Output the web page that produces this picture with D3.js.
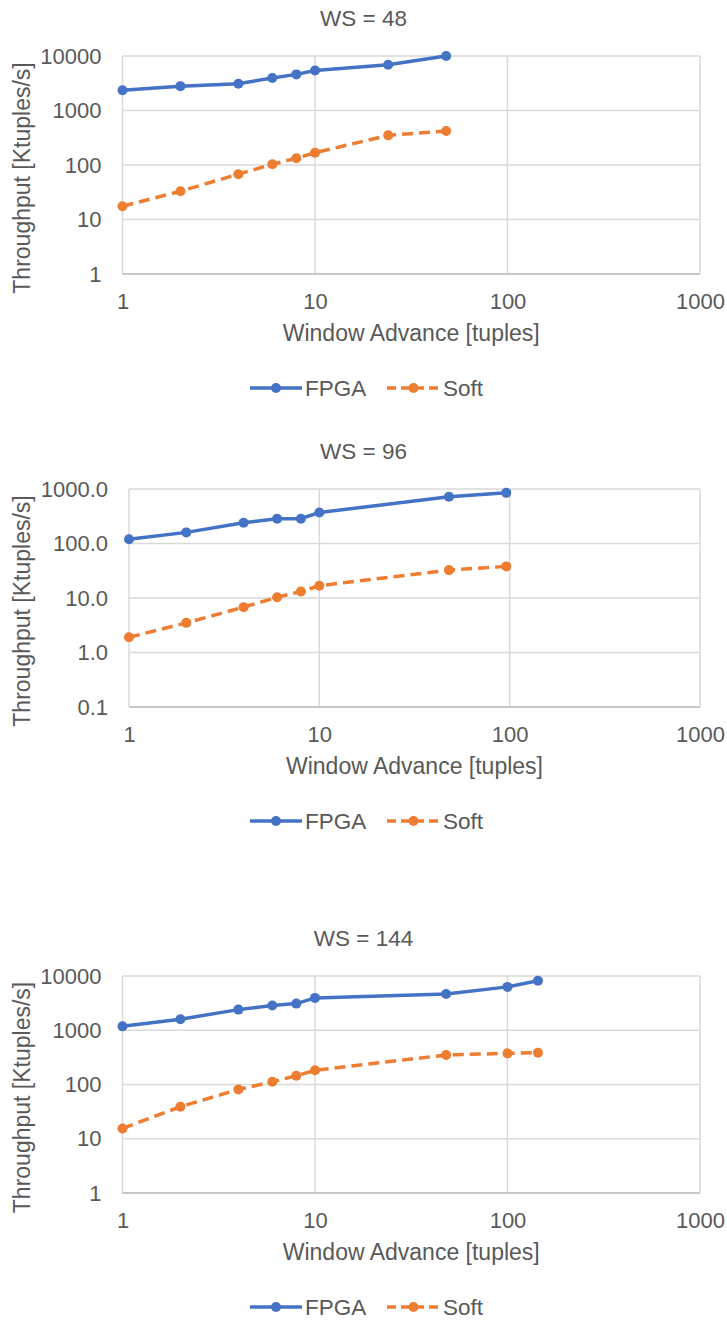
<!DOCTYPE html>
<html>
<head>
<meta charset="utf-8">
<script src="https://cdn.jsdelivr.net/npm/d3@7"></script>
<style>
  body { margin: 0; background: #fff; }
  svg { display: block; }
  text { font-family: "Liberation Sans", Arial, sans-serif; fill: #595959; }
</style>
</head>
<body>
<svg id="chart" width="727" height="1321"></svg>
<script>
// window advance values (x) and throughput per series
var wa48 = [1, 2, 4, 6, 8, 10, 24, 48];
var fpga48 = [2350, 2800, 3100, 3950, 4600, 5400, 6900, 10000];
var soft48 = [17.5, 33, 68, 103, 133, 168, 350, 420];

var wa96 = [1, 2, 4, 6, 8, 10, 48, 96];
var fpga96 = [120, 160, 240, 285, 285, 370, 720, 850];
var soft96 = [1.9, 3.5, 6.8, 10.3, 13.2, 16.8, 32.5, 38];

var wa144 = [1, 2, 4, 6, 8, 10, 48, 100, 144];
var fpga144 = [1180, 1600, 2400, 2850, 3100, 3950, 4650, 6300, 8200];
var soft144 = [15.5, 39, 81, 112, 145, 183, 350, 375, 385];

var xTicks = [1, 10, 100, 1000];
var yTicksA = [1, 10, 100, 1000, 10000];
var yTicksB = [0.1, 1, 10, 100, 1000];

var titles = ["WS = 48", "WS = 96", "WS = 144"];
var seriesNames = ["FPGA", "Soft"];
var xTitle = "Window Advance [tuples]";
var yTitle = "Throughput [Ktuples/s]";

var blue = "#4472C4", orange = "#ED7D31", grid = "#D9D9D9";

var svg = d3.select("#chart");

function drawChart(title, xs, fpga, soft, yTicks, yFmt, left, top, bottom) {
    var right = 700;
    var g = svg.append("g");

    var x = d3.scaleLog().domain([1, 1000]).range([left, right]);
    var y = d3.scaleLog().domain([yTicks[0], yTicks[yTicks.length - 1]]).range([bottom, top]);

    // gridlines
    g.selectAll(".hg").data(yTicks).enter().append("line")
        .attr("x1", left).attr("x2", right)
        .attr("y1", function(d) { return y(d); }).attr("y2", function(d) { return y(d); })
        .attr("stroke", grid).attr("stroke-width", 1.5);
    g.selectAll(".vg").data(xTicks).enter().append("line")
        .attr("x1", function(d) { return x(d); }).attr("x2", function(d) { return x(d); })
        .attr("y1", top).attr("y2", bottom)
        .attr("stroke", grid).attr("stroke-width", 1.5);
    g.append("line").attr("x1", left).attr("x2", right).attr("y1", bottom).attr("y2", bottom)
        .attr("stroke", "#C8C8C8").attr("stroke-width", 1.8);

    // axes (labels only, lines are the grid)
    var ya = g.append("g").attr("transform", "translate(" + (left - 21) + ",0)")
        .call(d3.axisLeft(y).tickValues(yTicks).tickFormat(yFmt).tickSize(0).tickPadding(0));
    ya.select(".domain").remove();
    ya.selectAll("text").style("font-size", "22px").attr("fill", "#595959")
        .style("font-family", "Liberation Sans, Arial, sans-serif");

    var xa = g.append("g").attr("transform", "translate(0," + (bottom + 19) + ")")
        .call(d3.axisBottom(x).tickValues(xTicks).tickFormat(d3.format("d")).tickSize(0).tickPadding(0));
    xa.select(".domain").remove();
    xa.selectAll("text").style("font-size", "22px").attr("fill", "#595959")
        .style("font-family", "Liberation Sans, Arial, sans-serif");

    // titles
    g.append("text").attr("x", 363.5).attr("y", top - 38).attr("dy", "0.35em")
        .attr("text-anchor", "middle").style("font-size", "22.5px").text(title);
    g.append("text").attr("x", (left + right) / 2).attr("y", bottom + 59).attr("dy", "0.35em")
        .attr("text-anchor", "middle").style("font-size", "23px").text(xTitle);
    g.append("text")
        .attr("transform", "translate(22," + ((top + bottom) / 2 + 13) + ") rotate(-90)")
        .attr("dy", "0.35em").attr("text-anchor", "middle").style("font-size", "23px").text(yTitle);

    var line = d3.line()
        .x(function(d) { return x(d[0]); })
        .y(function(d) { return y(d[1]); });

    var series = [
        { pts: d3.zip(xs, fpga), color: blue, dash: null },
        { pts: d3.zip(xs, soft), color: orange, dash: "11,6" }
    ];

    series.forEach(function(s) {
        g.append("path").datum(s.pts)
            .attr("d", line)
            .attr("fill", "none")
            .attr("stroke", s.color)
            .attr("stroke-width", 3.5)
            .attr("stroke-dasharray", s.dash)
            .attr("stroke-linejoin", "round");
        g.selectAll(null).data(s.pts).enter().append("circle")
            .attr("cx", function(d) { return x(d[0]); })
            .attr("cy", function(d) { return y(d[1]); })
            .attr("r", 5)
            .attr("fill", s.color);
    });

    // legend
    var ly = bottom + 114;
    var lg = g.append("g");
    var items = [[250, 302, blue, null, seriesNames[0]], [387, 440, orange, "9,5", seriesNames[1]]];
    items.forEach(function(it) {
        lg.append("line").attr("x1", it[0]).attr("x2", it[1]).attr("y1", ly).attr("y2", ly)
            .attr("stroke", it[2]).attr("stroke-width", 3.5).attr("stroke-dasharray", it[3]);
        lg.append("circle").attr("cx", (it[0] + it[1]) / 2).attr("cy", ly).attr("r", 5).attr("fill", it[2]);
        lg.append("text").attr("x", it[1] + 3).attr("y", ly).attr("dy", "0.35em")
            .style("font-size", "22.5px").text(it[4]);
    });
}

drawChart(titles[0], wa48, fpga48, soft48, yTicksA, d3.format("d"), 122.5, 56, 274);
drawChart(titles[1], wa96, fpga96, soft96, yTicksB, d3.format(".1f"), 129, 489, 707);
drawChart(titles[2], wa144, fpga144, soft144, yTicksA, d3.format("d"), 122.5, 976, 1193);
</script>
</body>
</html>
